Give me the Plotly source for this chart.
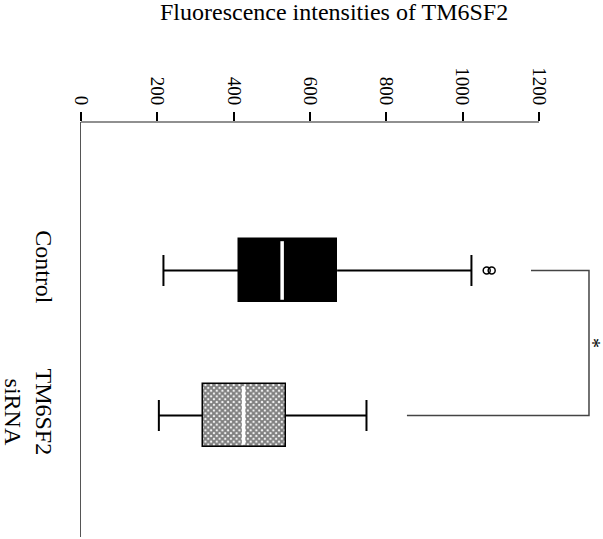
import plotly.graph_objects as go

# ---- data ----
categories = ["Control", "TM6SF2<br>siRNA"]
cat_pos = [0, 1]
whisker_low = [216, 204]
q1 = [414, 320]
median = [527, 426]
q3 = [671, 536]
whisker_high = [1023, 748]
outlier_x = [1063, 1076]
outlier_cat = [0, 0]
bracket_x = [1179, 1331, 1331, 854]
bracket_y = [0, 0, 1, 1]
star_label = "*"
x_ticks = [0, 200, 400, 600, 800, 1000, 1200]
title_text = "Fluorescence intensities of TM6SF2"

FONT = "Liberation Serif"
BOX_W = 0.428
CAP = 0.107

fig = go.Figure()

# boxes (Q1..Q3) as horizontal bars
fills = ["black", "white"]
patterns = [None, dict(shape="x", size=4, solidity=0.75, fgcolor="black", bgcolor="white")]
for i in range(2):
    marker = dict(color=fills[i], line=dict(color="black", width=1.5))
    if patterns[i]:
        marker["pattern"] = patterns[i]
    fig.add_trace(go.Bar(
        x=[q3[i] - q1[i]], y=[cat_pos[i]], base=[q1[i]], orientation="h",
        width=BOX_W, marker=marker, showlegend=False, hoverinfo="skip"))

for i in range(2):
    p = cat_pos[i]
    # whiskers
    fig.add_trace(go.Scatter(
        x=[whisker_low[i], q1[i], None, q3[i], whisker_high[i]],
        y=[p, p, None, p, p], mode="lines",
        line=dict(color="black", width=2), showlegend=False, hoverinfo="skip"))
    # caps
    fig.add_trace(go.Scatter(
        x=[whisker_low[i], whisker_low[i], None, whisker_high[i], whisker_high[i]],
        y=[p - CAP, p + CAP, None, p - CAP, p + CAP], mode="lines",
        line=dict(color="black", width=2), showlegend=False, hoverinfo="skip"))
    # median (white gap)
    fig.add_trace(go.Scatter(
        x=[median[i], median[i]], y=[p - BOX_W / 2 + 0.012, p + BOX_W / 2 - 0.012],
        mode="lines", line=dict(color="white", width=3.5),
        showlegend=False, hoverinfo="skip"))

# outliers
fig.add_trace(go.Scatter(
    x=outlier_x, y=outlier_cat, mode="markers",
    marker=dict(symbol="circle-open", size=7, color="black", line=dict(width=1.5)),
    showlegend=False, hoverinfo="skip"))

# significance bracket
fig.add_trace(go.Scatter(
    x=bracket_x, y=bracket_y, mode="lines",
    line=dict(color="#444444", width=1.5), showlegend=False, hoverinfo="skip"))
fig.add_annotation(x=bracket_x[1], y=(bracket_y[0] + bracket_y[2]) / 2,
                   xref="x", yref="y", text=star_label, showarrow=False,
                   textangle=90, xanchor="center", yanchor="middle", xshift=4,
                   borderpad=0,
                   font=dict(family=FONT, size=20, color="black"))

# value-axis line (0..1200 only)
fig.add_shape(type="line", xref="x", yref="paper", x0=x_ticks[0], x1=x_ticks[-1],
              y0=1, y1=1, line=dict(color="#222222", width=1.2))

# title
fig.add_annotation(text=title_text, xref="paper", yref="paper",
                   x=(334 - 81) / 522, y=1 + (122 - 12) / 415,
                   showarrow=False, xanchor="center", yanchor="middle",
                   font=dict(family=FONT, size=24, color="black"))

fig.update_layout(
    width=603, height=539,
    margin=dict(l=81, r=0, t=122, b=2),
    paper_bgcolor="white", plot_bgcolor="white",
    barmode="overlay", bargap=0,
    xaxis=dict(side="top", range=[0, 1367.7], tickvals=x_ticks,
               ticktext=[str(v) for v in x_ticks], tickangle=90,
               ticks="outside", ticklen=9, tickwidth=2, tickcolor="black",
               showgrid=False, zeroline=False, showline=False, automargin=False,
               tickfont=dict(family=FONT, size=19, color="black")),
    yaxis=dict(range=[1.838, -1.024], tickvals=cat_pos, ticktext=categories,
               tickangle=90, ticks="", showgrid=False, zeroline=False,
               showline=True, linecolor="#555555", linewidth=1.2,
               ticklabelstandoff=15, automargin=False,
               tickfont=dict(family=FONT, size=24, color="black")),
)

fig.write_html("out.html")
